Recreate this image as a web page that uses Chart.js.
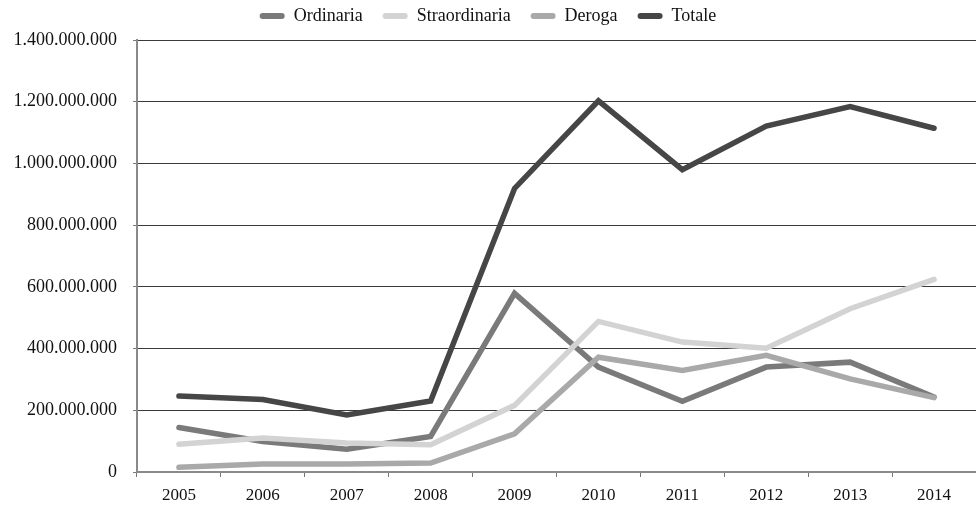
<!DOCTYPE html>
<html>
<head>
<meta charset="utf-8">
<script src="https://cdn.jsdelivr.net/npm/chart.js@4/dist/chart.umd.min.js"></script>
<style>
  body { margin: 0; background: #fff; }
  #wrap { width: 976px; height: 507px; position: relative; }
</style>
</head>
<body>
<div id="wrap"><canvas id="myChart"></canvas></div>
<script>
const anni = ['2005', '2006', '2007', '2008', '2009', '2010', '2011', '2012', '2013', '2014']
const ordinaria = [144000000, 99000000, 74000000, 115000000, 579000000, 340000000, 229000000, 340000000, 356000000, 243000000]
const straordinaria = [90000000, 110000000, 94000000, 88000000, 216000000, 488000000, 421000000, 401000000, 529000000, 624000000]
const deroga = [15000000, 26000000, 26000000, 29000000, 124000000, 372000000, 329000000, 378000000, 302000000, 241000000]
const totale = [246000000, 235000000, 185000000, 230000000, 919000000, 1203000000, 980000000, 1121000000, 1184000000, 1114000000]
const yTicks = [0, 200000000, 400000000, 600000000, 800000000, 1000000000, 1200000000, 1400000000]

const FONT = 'Liberation Serif'

const formatIt = v => String(v).replace(/\B(?=(\d{3})+(?!\d))/g, '.')

// legend sits higher than chart.js would put it
const legendFix = {
    id: 'legendFix',
    beforeInit(chart) {
        const fit = chart.legend.fit
        chart.legend.fit = function () {
            fit.call(this)
            this.height = 40
        }
    },
    afterLayout(chart) {
        chart.legend.top = -13
    }
}

const serie = (label, data, color, order) => ({
    label: label,
    data: data,
    borderColor: color,
    backgroundColor: color,
    borderWidth: 5.5,
    borderCapStyle: 'round',
    borderJoinStyle: 'miter',
    pointRadius: 0,
    tension: 0,
    order: order
})

var ctx = document.getElementById('myChart')
var myChart = new Chart(ctx, {
    type: 'line',
    data: {
        labels: anni,
        datasets: [
            serie('Ordinaria', ordinaria, '#7a7a7a', 3),
            serie('Straordinaria', straordinaria, '#d3d3d3', 2),
            serie('Deroga', deroga, '#a9a9a9', 1),
            serie('Totale', totale, '#464646', 0)
        ]
    },
    options: {
        responsive: true,
        maintainAspectRatio: false,
        animation: false,
        layout: { padding: 0 },
        plugins: {
            tooltip: { enabled: false },
            legend: {
                position: 'top',
                labels: {
                    font: { family: FONT, size: 18 },
                    color: '#111',
                    boxWidth: 25,
                    boxHeight: 6,
                    padding: 20,
                    useBorderRadius: true,
                    borderRadius: 3,
                    generateLabels: chart =>
                        Chart.defaults.plugins.legend.labels.generateLabels(chart)
                            .map(l => Object.assign(l, { lineWidth: 0 }))
                            .sort((a, b) => a.datasetIndex - b.datasetIndex)
                }
            }
        },
        scales: {
            x: {
                offset: true,
                grid: {
                    offset: true,
                    drawOnChartArea: false,
                    drawTicks: true,
                    tickLength: 5,
                    tickColor: '#777'
                },
                border: { color: '#8a8a8a', width: 2 },
                ticks: {
                    font: { family: FONT, size: 17 },
                    color: '#111',
                    padding: 8,
                    maxRotation: 0
                },
                afterFit: s => { s.height = 35 }
            },
            y: {
                min: 0,
                max: 1400000000,
                afterBuildTicks: s => { s.ticks = yTicks.map(v => ({ value: v })) },
                grid: {
                    color: '#3a3a3a',
                    lineWidth: 1,
                    tickLength: 4,
                    tickColor: '#777'
                },
                border: { color: '#8a8a8a', width: 2 },
                ticks: {
                    font: { family: FONT, size: 18 },
                    color: '#111',
                    padding: 16,
                    callback: v => formatIt(v)
                },
                afterFit: s => { s.width = 137 }
            }
        }
    },
    plugins: [legendFix]
})
</script>
</body>
</html>
